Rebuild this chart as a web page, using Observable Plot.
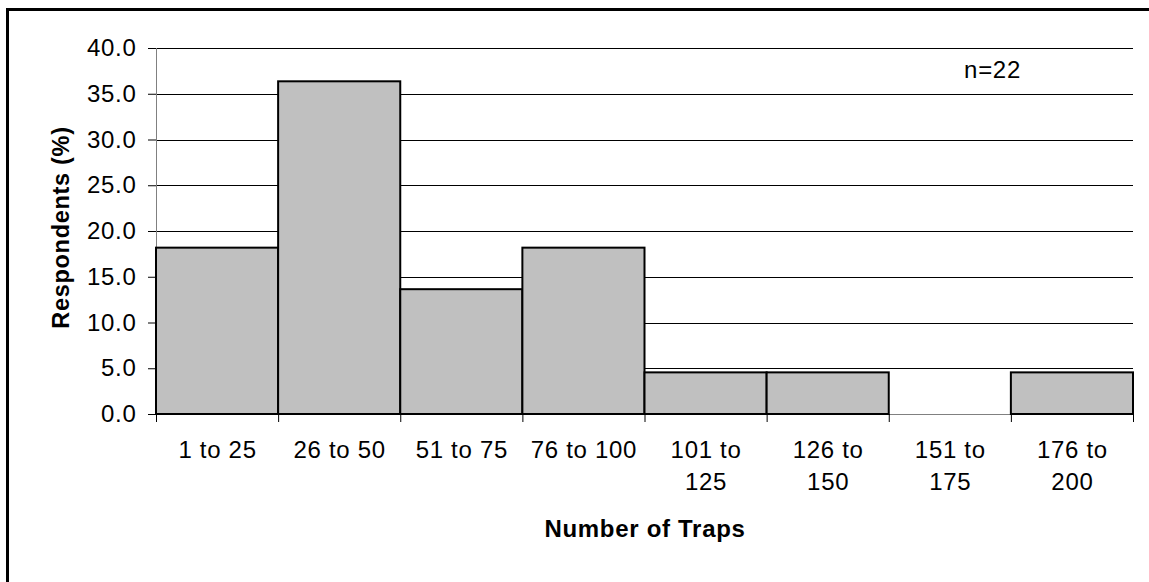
<!DOCTYPE html>
<html>
<head>
<meta charset="utf-8">
<script src="https://cdn.jsdelivr.net/npm/d3@7"></script>
<script src="https://cdn.jsdelivr.net/npm/@observablehq/plot@0.6"></script>
<style>
  html, body { margin: 0; padding: 0; background: #fff; }
  #wrap { position: relative; width: 1149px; height: 582px; overflow: hidden; }
  #frame { position: absolute; left: 6px; top: 8px; width: 1200px; height: 700px;
           border-left: 3px solid #000; border-top: 3px solid #000; box-sizing: border-box; pointer-events: none; }
  #chart { position: absolute; left: 0; top: 0; }
  #chart text { letter-spacing: 0.7px; }
  #chart g[aria-label="x-title"] text { letter-spacing: 1.5px; }
  #chart g[aria-label="y-title"] text { letter-spacing: 0; }
</style>
</head>
<body>
<div id="wrap"><div id="chart"></div><div id="frame"></div></div>
<script>
const categories = ["1 to 25", "26 to 50", "51 to 75", "76 to 100", "101 to 125", "126 to 150", "151 to 175", "176 to 200"];
const tickLabels = ["1 to 25", "26 to 50", "51 to 75", "76 to 100", "101 to\n125", "126 to\n150", "151 to\n175", "176 to\n200"];
const values = [18.18, 36.36, 13.64, 18.18, 4.55, 4.55, 0, 4.55];
const yTicks = [0, 5, 10, 15, 20, 25, 30, 35, 40];
const sampleNote = "n=22";
const xTitle = "Number of Traps";
const yTitle = "Respondents (%)";

const data = categories.map((c, i) => ({cat: c, label: tickLabels[i], i, v: values[i]}));
const FS = 24;

const chart = Plot.plot({
  width: 1149,
  height: 582,
  marginLeft: 156,
  marginRight: 16,
  marginTop: 48,
  marginBottom: 168,
  style: {fontFamily: "'Liberation Sans', Arial, sans-serif", fontSize: FS + "px", background: "transparent", color: "#000"},
  x: {domain: [0, categories.length], axis: null},
  y: {domain: [0, 40], axis: null},
  marks: [
    Plot.ruleY(yTicks.filter(t => t > 0), {stroke: "#000", strokeWidth: 1, shapeRendering: "crispEdges"}),
    Plot.ruleX([0], {stroke: "#808080", strokeWidth: 1, shapeRendering: "crispEdges"}),
    Plot.ruleY([0], {stroke: "#808080", strokeWidth: 1, shapeRendering: "crispEdges"}),
    Plot.rectY(data.filter(d => d.v > 0), {x1: "i", x2: d => d.i + 1, y1: 0, y2: "v", fill: "#c0c0c0", stroke: "#000", strokeWidth: 2}),
    Plot.axisY({ticks: yTicks, tickFormat: d => d.toFixed(1), tickSize: 8, tickPadding: 12, stroke: "#000", fontSize: FS, label: null}),
    Plot.axisX({ticks: d3.range(categories.length + 1), tickSize: 8, tickFormat: () => "", stroke: "#000", label: null}),
    Plot.text(data, {x: d => d.i + 0.5, y: 0, text: "label", dy: 21, lineAnchor: "top", lineHeight: 1.33, fontSize: FS, fill: "#000"}),
    Plot.text([xTitle], {frameAnchor: "bottom", dy: 122, fontWeight: "bold", fontSize: FS, fill: "#000", ariaLabel: "x-title"}),
    Plot.text([yTitle], {frameAnchor: "left", dx: -95, dy: -4, rotate: -90, textAnchor: "middle", fontWeight: "bold", fontSize: 23.5, fill: "#000", ariaLabel: "y-title"}),
    Plot.text([sampleNote], {frameAnchor: "top-right", dx: -141, dy: 22, lineAnchor: "middle", textAnchor: "middle", fontSize: FS, fill: "#000"})
  ]
});
document.getElementById("chart").appendChild(chart);
</script>
</body>
</html>
